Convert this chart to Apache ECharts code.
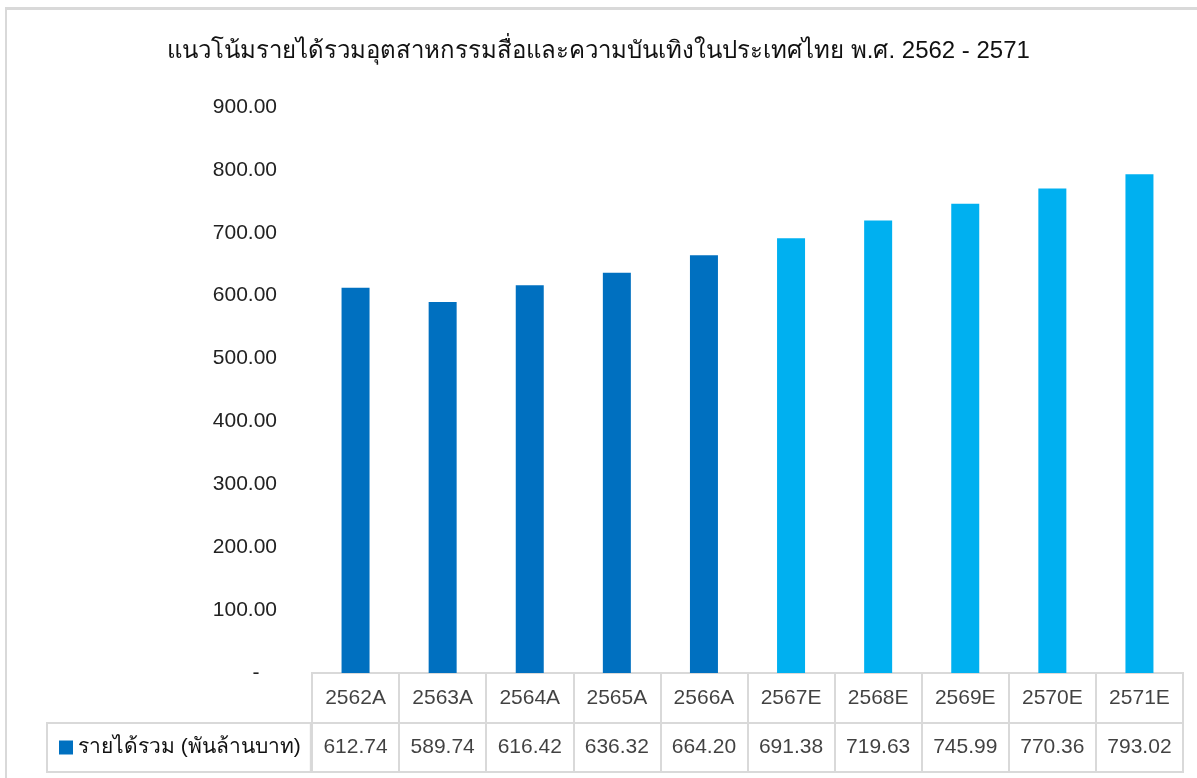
<!DOCTYPE html>
<html>
<head>
<meta charset="utf-8">
<script src="https://cdn.jsdelivr.net/npm/echarts@6/dist/echarts.min.js"></script>
<style>
  body { margin: 0; background: #fff; }
  #frame { position: absolute; left: 5px; top: 7px; width: 1400px; height: 900px;
           border-left: 2px solid #d9d9d9; border-top: 3px solid #d9d9d9; }
  #chart { position: absolute; left: 0; top: 0; width: 1197px; height: 778px; }
</style>
</head>
<body>
<div id="frame"></div>
<div id="chart"></div>
<script>
  // ข้อมูล
  var categories = ['2562A', '2563A', '2564A', '2565A', '2566A', '2567E', '2568E', '2569E', '2570E', '2571E'];
  var revenue = [612.74, 589.74, 616.42, 636.32, 664.20, 691.38, 719.63, 745.99, 770.36, 793.02];
  var seriesName = 'รายได้รวม (พันล้านบาท)';
  var yTicks = [0, 100, 200, 300, 400, 500, 600, 700, 800, 900];
  var tableRows = ['value', 'header'];

  var font = '"Liberation Sans", Arial, "Noto Sans", sans-serif';
  var lineGray = '#d9d9d9';
  var darkBlue = '#0070C0';
  var lightBlue = '#00B0F0';

  // cell texts for the data table
  var cells = [];
  categories.forEach(function (c, i) {
    cells.push([c, 'header', c]);
    cells.push([c, 'value', revenue[i].toFixed(2)]);
  });

  var myChart = echarts.init(document.getElementById('chart'));
  myChart.setOption({
    textStyle: { fontFamily: font },
    title: {
      text: 'แนวโน้มรายได้รวมอุตสาหกรรมสื่อและความบันเทิงในประเทศไทย พ.ศ. 2562 - 2571',
      left: 'center',
      top: 34,
      textStyle: { fontSize: 24, fontWeight: 'normal', color: '#111', fontFamily: font }
    },
    legend: {
      data: [seriesName],
      left: 47,
      top: 723,
      orient: 'horizontal',
      icon: 'rect',
      itemWidth: 14,
      itemHeight: 14,
      itemStyle: { color: darkBlue },
      borderColor: lineGray,
      borderWidth: 2,
      padding: [14, 10, 14, 12],
      textStyle: { fontSize: 21, color: '#111', lineHeight: 21 }
    },
    grid: [
      { left: 312, right: 14, top: 107, bottom: 105 },
      { left: 312, right: 14, top: 673, height: 99, show: true, borderColor: lineGray, borderWidth: 2 }
    ],
    xAxis: [{
      gridIndex: 0,
      type: 'category',
      data: categories,
      axisLine: { show: false },
      axisTick: { show: false },
      axisLabel: { show: false }
    }, {
      gridIndex: 1,
      type: 'category',
      data: categories,
      axisLine: { show: false },
      axisTick: { show: false },
      axisLabel: { show: false },
      splitLine: { show: true, interval: 0, lineStyle: { color: lineGray, width: 2 } }
    }],
    yAxis: [{
      gridIndex: 0,
      type: 'value',
      min: 0,
      max: yTicks[yTicks.length - 1],
      interval: 100,
      splitLine: { show: false },
      axisLine: { show: false },
      axisTick: { show: false },
      axisLabel: {
        margin: 35,
        fontSize: 21,
        color: '#222',
        formatter: function (v) {
          return v === 0 ? '-   ' : v.toFixed(2);
        }
      }
    }, {
      gridIndex: 1,
      type: 'category',
      data: tableRows,
      axisLine: { show: false },
      axisTick: { show: false },
      axisLabel: { show: false },
      splitLine: { show: true, interval: 0, lineStyle: { color: lineGray, width: 2 } }
    }],
    series: [{
      name: seriesName,
      type: 'bar',
      xAxisIndex: 0,
      yAxisIndex: 0,
      barWidth: 28,
      data: revenue,
      itemStyle: {
        color: function (p) {
          return p.name.slice(-1) === 'E' ? lightBlue : darkBlue;
        }
      }
    }, {
      name: 'table',
      type: 'scatter',
      xAxisIndex: 1,
      yAxisIndex: 1,
      silent: true,
      symbolSize: 1,
      itemStyle: { color: 'transparent' },
      data: cells,
      label: {
        show: true,
        position: 'inside',
        fontSize: 21,
        color: '#111',
        formatter: function (p) { return p.value[2]; }
      }
    }]
  });
</script>
</body>
</html>
